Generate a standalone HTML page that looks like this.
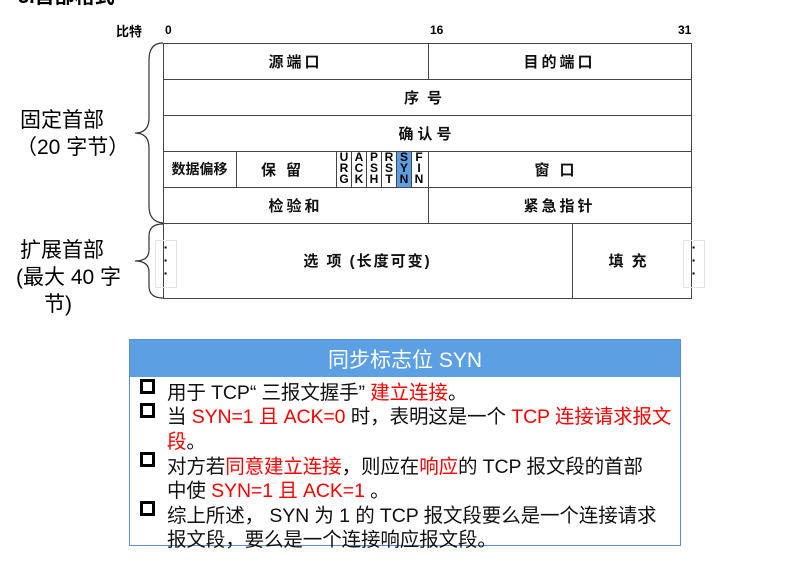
<!DOCTYPE html>
<html><head><meta charset="utf-8"><style>
body{margin:0;width:800px;height:566px;background:#fff;position:relative;overflow:hidden;font-family:"Liberation Sans","Noto Sans CJK SC",sans-serif;}
.a{position:absolute;white-space:nowrap}
.c{position:absolute;display:flex;align-items:center;justify-content:center;font-weight:bold;font-size:15px;color:#111;box-sizing:border-box}
.h{position:absolute;background:#444;height:1px}
.v{position:absolute;background:#444;width:1px}
.f{position:absolute;top:152px;width:14px;height:35px;font-size:12px;line-height:11px;font-weight:bold;text-align:center;font-family:"Liberation Sans",sans-serif}
.ln{position:absolute;left:167px;font-size:19.5px;color:#111;white-space:nowrap;letter-spacing:-0.1px}
.r{color:#f00}
.b{position:absolute;left:140px;width:9px;height:9px;border:3px solid #000}
.dots{position:absolute;width:20px;height:46px;border:1px solid #e4e4e4;font-size:14px;line-height:13px;text-align:center;font-weight:bold}
</style></head><body>
<div class="a" style="left:18px;top:-20px;font-size:20px;font-weight:bold">3.首部格式</div>
<div class="a" style="left:116px;top:21px;font-size:13px;font-weight:bold">比特</div>
<div class="a" style="left:165px;top:23px;font-size:12px;font-weight:bold">0</div>
<div class="a" style="left:430px;top:23px;font-size:12px;font-weight:bold">16</div>
<div class="a" style="left:678px;top:23px;font-size:12px;font-weight:bold">31</div>

<div class="h" style="left:163px;top:43px;width:529px"></div>
<div class="h" style="left:163px;top:79px;width:529px"></div>
<div class="h" style="left:163px;top:115px;width:529px"></div>
<div class="h" style="left:163px;top:151px;width:529px"></div>
<div class="h" style="left:163px;top:187px;width:529px"></div>
<div class="h" style="left:163px;top:223px;width:529px"></div>
<div class="h" style="left:163px;top:298px;width:529px"></div>
<div class="v" style="left:163px;top:43px;height:256px"></div>
<div class="v" style="left:691px;top:43px;height:256px"></div>
<div class="v" style="left:428px;top:43px;height:36px"></div>
<div class="v" style="left:428px;top:151px;height:72px"></div>
<div class="v" style="left:236px;top:151px;height:36px"></div>
<div class="v" style="left:336px;top:151px;height:36px"></div>
<div class="v" style="left:351px;top:151px;height:36px"></div>
<div class="v" style="left:366px;top:151px;height:36px"></div>
<div class="v" style="left:381px;top:151px;height:36px"></div>
<div class="v" style="left:396px;top:151px;height:36px"></div>
<div class="v" style="left:411px;top:151px;height:36px"></div>
<div class="v" style="left:572px;top:223px;height:75px"></div>
<div style="position:absolute;left:397px;top:152px;width:14px;height:35px;background:#5b9fe0"></div>

<div class="c" style="left:163px;top:43px;width:265px;height:36px;letter-spacing:3px">源端口</div>
<div class="c" style="left:428px;top:43px;width:263px;height:36px;letter-spacing:3px">目的端口</div>
<div class="c" style="left:163px;top:79px;width:528px;height:36px;letter-spacing:8px">序号</div>
<div class="c" style="left:163px;top:115px;width:528px;height:36px;letter-spacing:4px">确认号</div>
<div class="c" style="left:163px;top:151px;width:73px;height:36px;font-size:14px">数据偏移</div>
<div class="c" style="left:236px;top:151px;width:100px;height:36px;letter-spacing:10px">保留</div>
<div class="f" style="left:337px">U<br>R<br>G</div>
<div class="f" style="left:352px">A<br>C<br>K</div>
<div class="f" style="left:367px">P<br>S<br>H</div>
<div class="f" style="left:382px">R<br>S<br>T</div>
<div class="f" style="left:397px">S<br>Y<br>N</div>
<div class="f" style="left:412px">F<br>I<br>N</div>
<div class="c" style="left:428px;top:151px;width:263px;height:36px;letter-spacing:10px">窗口</div>
<div class="c" style="left:163px;top:187px;width:265px;height:36px;letter-spacing:3px">检验和</div>
<div class="c" style="left:428px;top:187px;width:263px;height:36px;letter-spacing:3px">紧急指针</div>
<div class="c" style="left:163px;top:223px;width:409px;height:75px;letter-spacing:2px">选 项 (长度可变)</div>
<div class="c" style="left:572px;top:223px;width:119px;height:75px;letter-spacing:8px">填充</div>
<div class="dots" style="left:155px;top:240px">·<br>·<br>·</div>
<div class="dots" style="left:683px;top:240px">·<br>·<br>·</div>

<svg style="position:absolute;left:0;top:0" width="800" height="566">
<path d="M163 43 Q149 43 149 60 L149 118 Q149 133 135 133 Q149 133 149 148 L149 206 Q149 222 163 223" fill="none" stroke="#333" stroke-width="1.2"/>
<path d="M163 224 Q149 224 149 236 L149 250 Q149 261 135 261 Q149 261 149 272 L149 286 Q149 298 163 298" fill="none" stroke="#333" stroke-width="1.2"/>
</svg>
<div class="a" style="left:20px;top:104px;font-size:21px">固定首部</div>
<div class="a" style="left:16px;top:131px;font-size:21px">（20 字节）</div>
<div class="a" style="left:20px;top:234px;font-size:21px">扩展首部</div>
<div class="a" style="left:16px;top:261px;font-size:21px">(最大 40 字</div>
<div class="a" style="left:44px;top:288px;font-size:21px">节)</div>

<div style="position:absolute;left:129px;top:339px;width:552px;height:207px;border:1px solid #5b8fd0;box-sizing:border-box"></div>
<div class="c" style="left:130px;top:340px;width:550px;height:37px;background:#5c9fe3;color:#fff;font-weight:normal;font-size:21px">同步标志位 SYN</div>
<div class="b" style="top:379px"></div>
<div class="b" style="top:403px"></div>
<div class="b" style="top:452px"></div>
<div class="b" style="top:501px"></div>
<div class="ln" style="top:376px">用于 TCP“ 三报文握手” <span class="r">建立连接</span>。</div>
<div class="ln" style="top:400px">当 <span class="r">SYN=1 且 ACK=0</span> 时，表明这是一个 <span class="r">TCP 连接请求报文</span></div>
<div class="ln" style="top:425px"><span class="r">段</span>。</div>
<div class="ln" style="top:450px">对方若<span class="r">同意建立连接</span>，则应在<span class="r">响应</span>的 TCP 报文段的首部</div>
<div class="ln" style="top:474px">中使 <span class="r">SYN=1 且 ACK=1</span> 。</div>
<div class="ln" style="top:499px">综上所述， SYN 为 1 的 TCP 报文段要么是一个连接请求</div>
<div class="ln" style="top:523px">报文段，要么是一个连接响应报文段。</div>
</body></html>
